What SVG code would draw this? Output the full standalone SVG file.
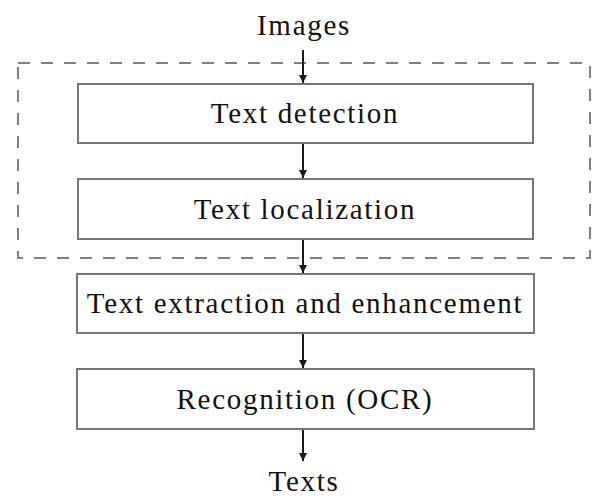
<svg xmlns="http://www.w3.org/2000/svg" width="592" height="496" viewBox="0 0 592 496">
<style>
.box{fill:#fff;stroke:#767676;stroke-width:2}
.lbl{font-family:"Liberation Serif","Times New Roman",serif;font-size:29px;letter-spacing:1.7px;fill:#111;text-anchor:middle}
.dash{fill:none;stroke:#808080;stroke-width:2;stroke-dasharray:12 11}
.conn{stroke:#1a1a1a;stroke-width:2;fill:none;marker-end:url(#ah)}
</style>
<defs>
<marker id="ah" viewBox="0 0 8 10" refX="8" refY="5" markerWidth="4.5" markerHeight="5" orient="auto" markerUnits="strokeWidth">
<path d="M0,1 L8,5 L0,9 Z" fill="#1a1a1a"/>
</marker>
</defs>
<rect id="group-frame" class="dash" x="18" y="63" width="572" height="195"/>
<g id="images"><text class="lbl" x="304" y="35">Images</text></g>
<g id="detection"><rect class="box" x="78" y="84" width="455" height="59"/><text class="lbl" x="305" y="123">Text detection</text></g>
<g id="localization"><rect class="box" x="78" y="179" width="455" height="60"/><text class="lbl" x="305" y="219">Text localization</text></g>
<g id="extraction"><rect class="box" x="77" y="274" width="457" height="59"/><text class="lbl" x="305" y="313">Text extraction and enhancement</text></g>
<g id="recognition"><rect class="box" x="77" y="369" width="457" height="60"/><text class="lbl" x="305" y="409">Recognition (OCR)</text></g>
<g id="texts"><text class="lbl" x="304" y="491">Texts</text></g>
<g id="connectors">
<line class="conn" x1="303" y1="50" x2="303" y2="83"/>
<line class="conn" x1="303" y1="144" x2="303" y2="178"/>
<line class="conn" x1="303" y1="240" x2="303" y2="273"/>
<line class="conn" x1="303" y1="334" x2="303" y2="368"/>
<line class="conn" x1="303" y1="430" x2="303" y2="461"/>
</g>
</svg>
